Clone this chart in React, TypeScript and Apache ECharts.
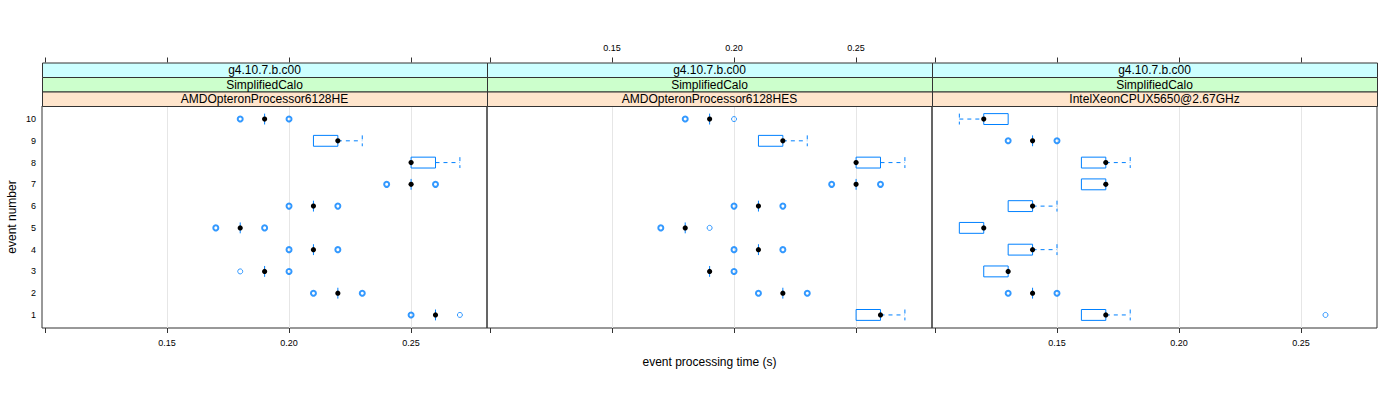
import { useEffect, useRef } from "react";
import * as echarts from "echarts";

const panelNames = ["AMDOpteronProcessor6128HE", "AMDOpteronProcessor6128HES", "IntelXeonCPUX5650@2.67GHz"];
const stripVersion = "g4.10.7.b.c00";
const stripPhysics = "SimplifiedCalo";
const events = [1, 2, 3, 4, 5, 6, 7, 8, 9, 10];
const tickValues = [0.1, 0.15, 0.2, 0.25];
const tickLabelValues = [0.15, 0.2, 0.25];
const xRange = [0.0988, 0.2811];
const yRange = [0.4, 10.6];

// AMDOpteronProcessor6128HE, events 1..10
const heLower = [0.26, 0.22, 0.19, 0.21, 0.18, 0.21, 0.25, 0.25, 0.21, 0.19];
const heQ1 = [0.26, 0.22, 0.19, 0.21, 0.18, 0.21, 0.25, 0.25, 0.21, 0.19];
const heMedian = [0.26, 0.22, 0.19, 0.21, 0.18, 0.21, 0.25, 0.25, 0.22, 0.19];
const heQ3 = [0.26, 0.22, 0.19, 0.21, 0.18, 0.21, 0.25, 0.26, 0.22, 0.19];
const heUpper = [0.26, 0.22, 0.19, 0.21, 0.18, 0.21, 0.25, 0.27, 0.23, 0.19];
// [value, event, count]
const heOutliers = [
  [0.25, 1, 2], [0.27, 1, 1], [0.21, 2, 2], [0.23, 2, 2], [0.18, 3, 1], [0.2, 3, 2],
  [0.2, 4, 2], [0.22, 4, 2], [0.17, 5, 2], [0.19, 5, 2], [0.2, 6, 2], [0.22, 6, 2],
  [0.24, 7, 2], [0.26, 7, 2], [0.18, 10, 2], [0.2, 10, 2],
];

// AMDOpteronProcessor6128HES
const hesLower = [0.25, 0.22, 0.19, 0.21, 0.18, 0.21, 0.25, 0.25, 0.21, 0.19];
const hesQ1 = [0.25, 0.22, 0.19, 0.21, 0.18, 0.21, 0.25, 0.25, 0.21, 0.19];
const hesMedian = [0.26, 0.22, 0.19, 0.21, 0.18, 0.21, 0.25, 0.25, 0.22, 0.19];
const hesQ3 = [0.26, 0.22, 0.19, 0.21, 0.18, 0.21, 0.25, 0.26, 0.22, 0.19];
const hesUpper = [0.27, 0.22, 0.19, 0.21, 0.18, 0.21, 0.25, 0.27, 0.23, 0.19];
const hesOutliers = [
  [0.21, 2, 2], [0.23, 2, 2], [0.2, 3, 2], [0.2, 4, 2], [0.22, 4, 2], [0.17, 5, 2],
  [0.19, 5, 1], [0.2, 6, 2], [0.22, 6, 2], [0.24, 7, 2], [0.26, 7, 2], [0.18, 10, 2],
  [0.2, 10, 1],
];

// IntelXeonCPUX5650@2.67GHz
const xeonLower = [0.16, 0.14, 0.12, 0.13, 0.11, 0.13, 0.16, 0.16, 0.14, 0.11];
const xeonQ1 = [0.16, 0.14, 0.12, 0.13, 0.11, 0.13, 0.16, 0.16, 0.14, 0.12];
const xeonMedian = [0.17, 0.14, 0.13, 0.14, 0.12, 0.14, 0.17, 0.17, 0.14, 0.12];
const xeonQ3 = [0.17, 0.14, 0.13, 0.14, 0.12, 0.14, 0.17, 0.17, 0.14, 0.13];
const xeonUpper = [0.18, 0.14, 0.13, 0.15, 0.12, 0.15, 0.17, 0.18, 0.14, 0.13];
const xeonOutliers = [
  [0.26, 1, 1], [0.13, 2, 2], [0.15, 2, 2], [0.13, 9, 2], [0.15, 9, 2],
];

const panelStats = [
  { lower: heLower, q1: heQ1, median: heMedian, q3: heQ3, upper: heUpper, outliers: heOutliers },
  { lower: hesLower, q1: hesQ1, median: hesMedian, q3: hesQ3, upper: hesUpper, outliers: hesOutliers },
  { lower: xeonLower, q1: xeonQ1, median: xeonMedian, q3: xeonQ3, upper: xeonUpper, outliers: xeonOutliers },
];

const BLUE = "#0080ff";
const FONT = "'Liberation Sans', Arial, Helvetica, sans-serif";
const PANEL_LEFT = 42;
const PANEL_W = 445;
const PANEL_TOP = 106;
const PANEL_H = 222;
const STRIP_H = 14.5;
const STRIP_COLORS = ["#ccffff", "#ccffcc", "#ffe5cc"];

function renderBox(params: any, api: any) {
  const ev = api.value(0);
  const lw = api.value(1);
  const q1 = api.value(2);
  const med = api.value(3);
  const q3 = api.value(4);
  const uw = api.value(5);
  const [xq1, yc] = api.coord([q1, ev]);
  const [xq3] = api.coord([q3, ev]);
  const [xmed] = api.coord([med, ev]);
  const [xlw] = api.coord([lw, ev]);
  const [xuw] = api.coord([uw, ev]);
  const h = api.size([0, 1])[1] * 0.5;
  const top = yc - h / 2;
  const solid = { stroke: BLUE, lineWidth: 1, fill: "none" };
  const dashed = { stroke: BLUE, lineWidth: 1, lineDash: [4, 4], fill: "none" };
  const children: any[] = [];
  if (Math.abs(q3 - q1) < 1e-9) {
    children.push({ type: "line", shape: { x1: xq1, y1: top, x2: xq1, y2: top + h }, style: solid });
  } else {
    children.push({ type: "rect", shape: { x: xq1, y: top, width: xq3 - xq1, height: h }, style: solid });
  }
  if (lw < q1 - 1e-9) {
    children.push({ type: "line", shape: { x1: xlw, y1: yc, x2: xq1, y2: yc }, style: dashed });
    children.push({ type: "line", shape: { x1: xlw, y1: top, x2: xlw, y2: top + h }, style: dashed });
  }
  if (uw > q3 + 1e-9) {
    children.push({ type: "line", shape: { x1: xq3, y1: yc, x2: xuw, y2: yc }, style: dashed });
    children.push({ type: "line", shape: { x1: xuw, y1: top, x2: xuw, y2: top + h }, style: dashed });
  }
  children.push({ type: "circle", shape: { cx: xmed, cy: yc, r: 2.6 }, style: { fill: "#000", stroke: "none" } });
  return { type: "group", children };
}

function buildOption() {
  const grids: any[] = [];
  const xAxes: any[] = [];
  const yAxes: any[] = [];
  const series: any[] = [];
  const graphics: any[] = [];

  panelNames.forEach((name, i) => {
    const left = PANEL_LEFT + PANEL_W * i;
    grids.push({
      left, top: PANEL_TOP, width: PANEL_W, height: PANEL_H,
      show: true, borderColor: "#333", borderWidth: 1, backgroundColor: "transparent",
    });
    const base = {
      type: "value", gridIndex: i, min: xRange[0], max: xRange[1],
      axisLine: { show: false },
      splitLine: { show: false },
    };
    xAxes.push({
      ...base, position: "bottom",
      axisTick: { show: true, inside: false, length: 5, customValues: tickValues, lineStyle: { color: "#333" } },
      axisLabel: {
        show: i !== 1, customValues: tickLabelValues, margin: 10, fontSize: 9, color: "#000",
        fontFamily: FONT, formatter: (v: number) => v.toFixed(2),
      },
    });
    xAxes.push({
      ...base, position: "top", offset: STRIP_H * 3,
      axisTick: { show: true, inside: false, length: 5, customValues: tickValues, lineStyle: { color: "#333" } },
      axisLabel: {
        show: i === 1, customValues: tickLabelValues, margin: 10, fontSize: 9, color: "#000",
        fontFamily: FONT, formatter: (v: number) => v.toFixed(2),
      },
    });
    xAxes.push({
      ...base, position: "bottom",
      axisTick: { show: false, customValues: tickLabelValues },
      axisLabel: { show: false, customValues: tickLabelValues },
      splitLine: { show: true, lineStyle: { color: "#e6e6e6", width: 1 } },
    });
    yAxes.push({
      type: "value", gridIndex: i, min: yRange[0], max: yRange[1],
      axisLine: { show: false },
      axisTick: { show: false },
      splitLine: { show: false },
      axisLabel: {
        show: i === 0, customValues: events, margin: 6, fontSize: 9, color: "#000", fontFamily: FONT,
      },
    });

    const st = panelStats[i];
    const boxData = events.map((ev, k) => [ev, st.lower[k], st.q1[k], st.median[k], st.q3[k], st.upper[k]]);
    series.push({
      type: "custom", xAxisIndex: i * 3, yAxisIndex: i, renderItem: renderBox,
      data: boxData, encode: { x: [1, 2, 3, 4, 5], y: 0 }, z: 3, silent: true,
    });
    series.push({
      type: "scatter", xAxisIndex: i * 3, yAxisIndex: i, z: 4, silent: true,
      symbol: "circle", symbolSize: 5,
      data: st.outliers.map((o) => ({
        value: [o[0], o[1]],
        itemStyle: { color: "rgba(0,0,0,0)", borderColor: BLUE, borderWidth: o[2] > 1 ? 2 : 1 },
      })),
    });

    const labels = [stripVersion, stripPhysics, name];
    labels.forEach((txt, k) => {
      const y = PANEL_TOP - STRIP_H * (3 - k);
      graphics.push({
        type: "rect", left, top: y, shape: { x: 0, y: 0, width: PANEL_W, height: STRIP_H },
        style: { fill: STRIP_COLORS[k], stroke: "#333", lineWidth: 1 }, z: 1, silent: true,
      });
      graphics.push({
        type: "text", x: left + PANEL_W / 2, y: y + STRIP_H / 2 + 0.5, z: 2, silent: true,
        style: { text: txt, fill: "#000", font: `12px ${FONT}`, align: "center", verticalAlign: "middle" },
      });
    });
  });

  graphics.push({
    type: "text", x: PANEL_LEFT + (PANEL_W * 3) / 2, y: 362, silent: true,
    style: { text: "event processing time (s)", fill: "#000", font: `12px ${FONT}`, align: "center", verticalAlign: "middle" },
  });
  graphics.push({
    type: "text", x: 12, y: PANEL_TOP + PANEL_H / 2, rotation: Math.PI / 2, silent: true,
    style: { text: "event number", fill: "#000", font: `12px ${FONT}`, align: "center", verticalAlign: "middle" },
  });

  return {
    animation: false,
    backgroundColor: "#fff",
    grid: grids,
    xAxis: xAxes,
    yAxis: yAxes,
    series,
    graphic: graphics,
  };
}

export default function App() {
  const ref = useRef<HTMLDivElement>(null);
  useEffect(() => {
    if (!ref.current) return;
    const chart = echarts.init(ref.current, undefined, { renderer: "svg" });
    chart.setOption(buildOption() as any);
    return () => chart.dispose();
  }, []);
  return (
    <div
      ref={ref}
      style={{ position: "fixed", left: 0, top: 0, width: 1400, height: 400, background: "#fff" }}
    />
  );
}
